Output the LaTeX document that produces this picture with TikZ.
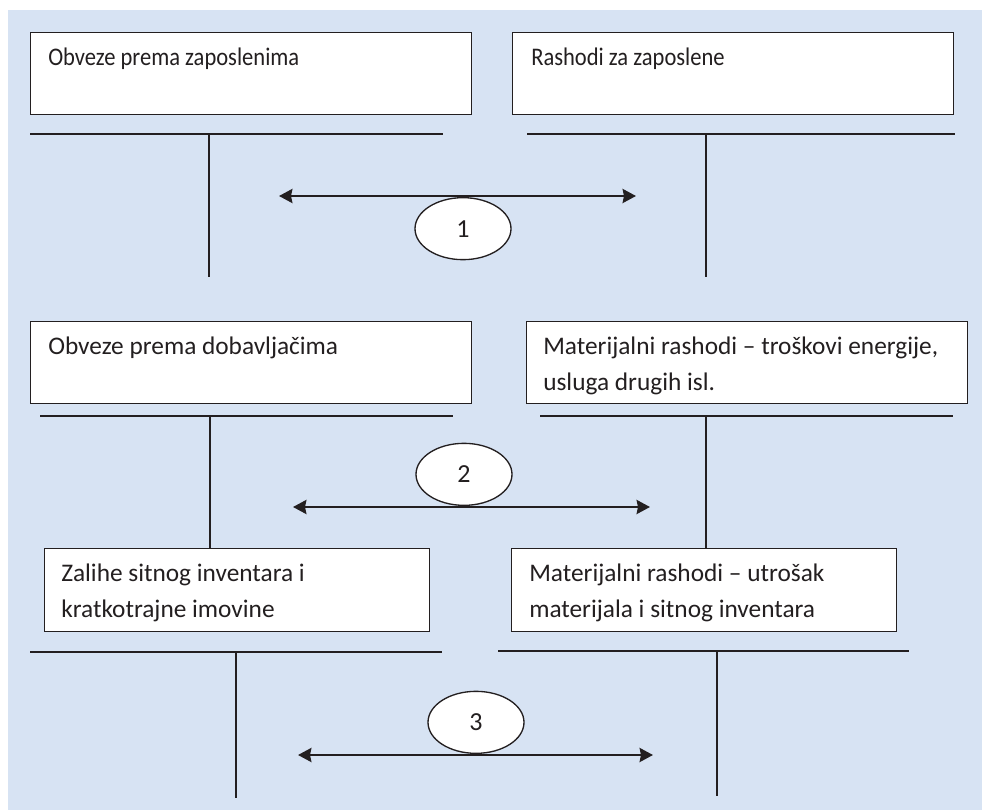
\documentclass[tikz,border=0pt]{standalone}
\usepackage{fontspec}
\setmainfont{Carlito}
\newfontfamily\narrowfont[FakeStretch=0.89]{Carlito}
\usetikzlibrary{arrows.meta,shapes.geometric}

\definecolor{panel}{HTML}{D7E3F3}
\definecolor{ink}{HTML}{231F20}
\newcommand{\px}{0.75pt}

\tikzset{
  acct/.style={draw=ink, fill=white, line width=1pt, anchor=north west, inner sep=0pt},
  entry/.style={anchor=base west, inner sep=0pt, text=ink, font=\fontsize{19}{26.3}\selectfont},
  narrow/.style={font=\fontsize{19}{26.3}\selectfont\narrowfont},
  tline/.style={draw=ink, line width=1.1pt},
  flow/.style={draw=ink, line width=1.9pt, {Stealth[length=10pt,width=10.5pt,inset=1pt]}-{Stealth[length=10pt,width=10.5pt,inset=1pt]}},
  num/.style={ellipse, draw=ink, fill=white, line width=1pt, inner sep=0pt, minimum width=96*\px, minimum height=62*\px, text=ink, font=\fontsize{19.5}{22}\selectfont}
}

\begin{document}
\begin{tikzpicture}[x=\px, y=-\px]
\useasboundingbox (0,0) rectangle (982,810);
\fill[panel] (8,10) rectangle (982,810);

\node[acct, minimum width=441*\px, minimum height=82*\px] (zapbox) at (30,32) {};
\node[entry, narrow] (zap) at (48,65) {Obveze prema zaposlenima};
\node[acct, minimum width=441*\px, minimum height=82*\px] (rashbox) at (512,32) {};
\node[entry, narrow] (rash) at (531,65) {Rashodi za zaposlene};

\coordinate (t1l) at (30,134);
\coordinate (t1r) at (443,134);
\coordinate (t1top) at (209,134);
\coordinate (t1bot) at (209,277);
\draw[tline] (t1l) -- (t1r);
\draw[tline] (t1top) -- (t1bot);

\coordinate (t2l) at (527,134);
\coordinate (t2r) at (955,134);
\coordinate (t2top) at (706,134);
\coordinate (t2bot) at (706,277);
\draw[tline] (t2l) -- (t2r);
\draw[tline] (t2top) -- (t2bot);

\coordinate (f1l) at (279,196);
\coordinate (f1r) at (636,196);
\draw[flow] (f1l) -- (f1r);
\node[num, anchor=north] (n1) at (463,197) {1};

\node[acct, minimum width=441*\px, minimum height=82*\px] (dobbox) at (30,321) {};
\node[entry] (dob) at (48,354) {Obveze prema dobavljačima};
\node[acct, minimum width=441*\px, minimum height=82*\px] (enbox) at (526,321) {};
\node[entry, align=left] (en) at (543,390) {Materijalni rashodi – troškovi energije,\\usluga drugih isl.};

\coordinate (t3l) at (40,416);
\coordinate (t3r) at (453,416);
\coordinate (t3top) at (210,416);
\draw[tline] (t3l) -- (t3r);

\coordinate (t4l) at (540,416);
\coordinate (t4r) at (953,416);
\coordinate (t4top) at (706,416);
\draw[tline] (t4l) -- (t4r);

\coordinate (f2l) at (293,507);
\coordinate (f2r) at (650,507);
\draw[flow] (f2l) -- (f2r);
\node[num, anchor=south] (n2) at (464,506) {2};

\node[acct, minimum width=385*\px, minimum height=83*\px] (zalbox) at (44,548) {};
\node[entry, align=left] (zal) at (61,617) {Zalihe sitnog inventara i\\kratkotrajne imovine};
\node[acct, minimum width=385*\px, minimum height=83*\px] (utrbox) at (511,548) {};
\node[entry, align=left] (utr) at (529,617) {Materijalni rashodi – utrošak\\materijala i sitnog inventara};

\draw[tline] (t3top) -- (t3top |- zalbox.north);
\draw[tline] (t4top) -- (t4top |- utrbox.north);

\coordinate (t5l) at (30,652);
\coordinate (t5r) at (442,652);
\coordinate (t5top) at (236,652);
\coordinate (t5bot) at (236,798);
\draw[tline] (t5l) -- (t5r);
\draw[tline] (t5top) -- (t5bot);

\coordinate (t6l) at (498,651);
\coordinate (t6r) at (909,651);
\coordinate (t6top) at (717,651);
\coordinate (t6bot) at (717,796);
\draw[tline] (t6l) -- (t6r);
\draw[tline] (t6top) -- (t6bot);

\coordinate (f3l) at (298,755);
\coordinate (f3r) at (653,755);
\draw[flow] (f3l) -- (f3r);
\node[num, anchor=south] (n3) at (476,754) {3};

\end{tikzpicture}
\end{document}
